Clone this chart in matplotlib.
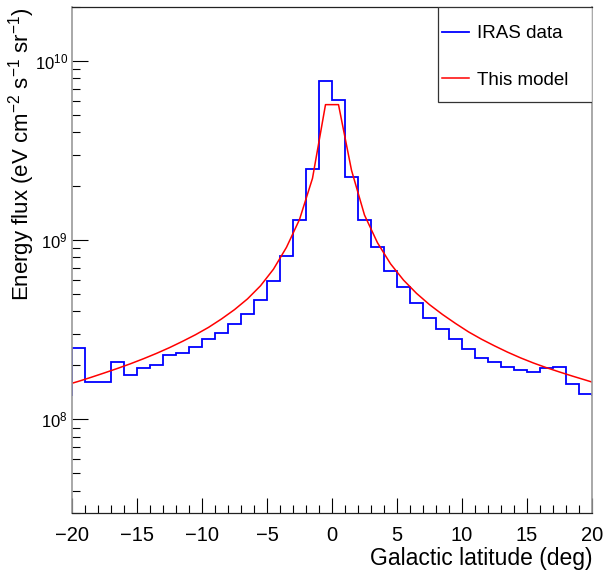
import numpy as np
import matplotlib.pyplot as plt
from matplotlib.patches import Rectangle
from matplotlib.ticker import MultipleLocator, LogLocator, NullFormatter

plt.rcParams['font.family'] = ['Liberation Sans', 'DejaVu Sans']
plt.rcParams['mathtext.default'] = 'regular'

# IRAS histogram: 1 deg bins from -20 to 20, flux in eV cm^-2 s^-1 sr^-1
bin_edges = np.arange(-20, 21, 1)
iras_flux = np.array([
    2.51, 1.62, 1.62, 2.10, 1.77, 1.94, 2.01, 2.29, 2.35, 2.54,
    2.79, 3.04, 3.41, 3.88, 4.62, 5.95, 8.20, 12.9, 24.8, 76.9,
    60.5, 22.4, 13.0, 9.14, 6.73, 5.51, 4.45, 3.67, 3.19, 2.82,
    2.47, 2.21, 2.10, 1.97, 1.89, 1.83, 1.94, 1.97, 1.58, 1.39,
]) * 1e8
iras_edge_low = 1.35e8  # where the outline starts at the left edge

# model curve
model_lat = np.array([-20] + list(np.arange(-19.5, 20, 1.0)) + [20])
model_flux = np.array([
    1.589,
    1.629, 1.718, 1.816, 1.923, 2.042, 2.178, 2.333, 2.512, 2.723, 2.965,
    3.258, 3.631, 4.093, 4.699, 5.559, 6.887, 9.120, 13.03, 22.13, 57.02,
    57.02, 24.55, 13.80, 9.661, 7.379, 5.984, 5.047, 4.365, 3.846, 3.428,
    3.076, 2.799, 2.570, 2.371, 2.203, 2.061, 1.941, 1.837, 1.742, 1.656,
    1.614,
]) * 1e8

fig = plt.figure(figsize=(6.07, 5.77), dpi=100)
ax = fig.add_axes([0.1186, 0.1109, 0.8567, 0.877])

ax.stairs(iras_flux, bin_edges, baseline=iras_edge_low, color='#0000ff',
          lw=1.3, label='IRAS data')
ax.plot(model_lat, model_flux, color='#ff0000', lw=1.1, label='This model')

ax.set_yscale('log')
ax.set_xlim(-20, 20)
ax.set_ylim(3.0e7, 2.0e10)

ax.xaxis.set_major_locator(MultipleLocator(5))
ax.xaxis.set_minor_locator(MultipleLocator(1))
ax.yaxis.set_major_locator(LogLocator(base=10))
ax.yaxis.set_minor_locator(LogLocator(base=10, subs=np.arange(2, 10)))
ax.yaxis.set_minor_formatter(NullFormatter())

ax.tick_params(axis='x', which='major', direction='in', length=11, width=0.8,
               labelsize=14.5, pad=9, top=False)
ax.tick_params(axis='x', which='minor', direction='in', length=5.5, width=0.8, top=False)
ax.tick_params(axis='y', which='major', direction='in', length=11.5, width=0.8,
               labelsize=12, pad=3, right=False)
ax.tick_params(axis='y', which='minor', direction='in', length=6, width=0.8, right=False)

for side in ['left', 'right']:
    ax.spines[side].set_color('#999999')
    ax.spines[side].set_linewidth(1.2)
for side in ['top', 'bottom']:
    ax.spines[side].set_color('#222222')
    ax.spines[side].set_linewidth(0.9)

ax.set_xlabel('Galactic latitude (deg)', fontsize=16.5, loc='right', labelpad=2)
ax.set_ylabel('Energy flux (eV cm$^{-2}$ s$^{-1}$ sr$^{-1}$)', fontsize=16,
              loc='top', labelpad=-2)

# legend box drawn separately (ROOT style tall box), entries without frame
box = Rectangle((0.704, 0.812), 0.296, 0.188, transform=ax.transAxes,
                facecolor='white', edgecolor='#333333', lw=0.9, zorder=5)
ax.add_patch(box)
leg = ax.legend(loc='upper left', bbox_to_anchor=(0.685, 0.992), frameon=False,
                borderaxespad=0, fontsize=13.5, borderpad=0.75,
                handlelength=1.45, handletextpad=0.4, labelspacing=1.57)
leg.set_zorder(6)

fig.savefig('out.png', dpi=100)
